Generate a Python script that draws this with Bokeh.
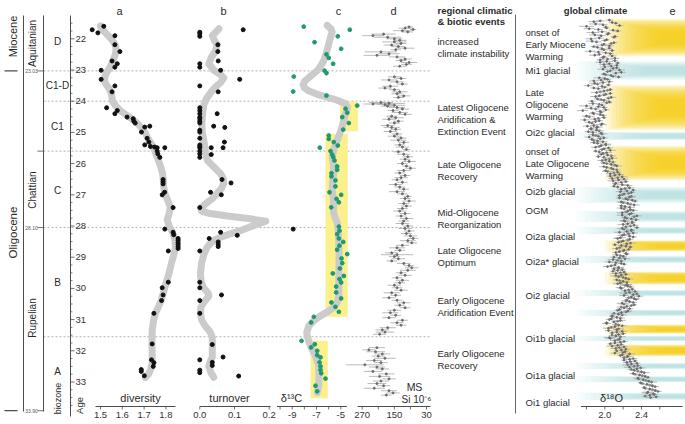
import numpy as np
from bokeh.plotting import figure
from bokeh.models import Range1d
from bokeh.core.properties import value
from bokeh.embed import file_html
from bokeh.resources import INLINE

FONT = "Liberation Sans"

# ---------------- data ----------------
age_ticks = [22, 23, 24, 25, 26, 27, 28, 29, 30, 31, 32, 33]
stage_names = ["Aquitanian", "Chattian", "Rupelian"]
stage_mid = [22.15, 26.85, 30.95]
stage_bounds = [23.03, 28.05, 33.92]
stage_bound_labels = ["23.03", "28.10", "33.90"]
biozone_names = ["D", "C1-D", "C1", "C", "B", "A"]
biozone_mid = [22.1, 23.5, 24.8, 26.85, 29.8, 32.65]
dashed_bounds = [23.03, 24.0, 25.6, 28.05, 31.55]

# panel a: diversity
a_age = [21.71, 21.81, 21.60, 21.90, 22.19, 22.41, 22.71, 22.80, 22.91, 23.01, 23.30, 23.51, 23.70,
         24.21, 24.30, 24.40, 24.51, 24.56, 24.64, 24.70, 24.80, 24.83, 24.99, 25.19, 25.31, 25.40,
         25.45, 25.47, 25.49, 25.49, 25.60, 25.69, 25.80, 26.51, 26.58, 26.65, 26.92, 27.00, 27.41,
         28.10, 28.20, 28.28, 28.40, 28.46, 28.53, 28.59, 28.66, 28.72, 28.80, 29.80, 29.98, 30.21,
         30.39, 30.80, 31.78, 32.29, 32.38, 32.50, 32.60, 32.66, 32.80]
a_div = [1.462, 1.488, 1.515, 1.566, 1.566, 1.589, 1.553, 1.577, 1.566, 1.503, 1.503, 1.566, 1.553,
         1.528, 1.577, 1.566, 1.622, 1.650, 1.653, 1.659, 1.726, 1.703, 1.688, 1.714, 1.722, 1.703,
         1.729, 1.748, 1.760, 1.795, 1.760, 1.763, 1.772, 1.787, 1.787, 1.787, 1.794, 1.783, 1.833,
         1.795, 1.833, 1.836, 1.856, 1.856, 1.856, 1.856, 1.856, 1.856, 1.811, 1.811, 1.783, 1.787,
         1.780, 1.745, 1.737, 1.734, 1.745, 1.742, 1.687, 1.687, 1.701]
a_curve_age = [21.59, 21.75, 21.9, 22.05, 22.2, 22.35, 22.5, 22.65, 22.8, 22.95, 23.1, 23.25, 23.4,
               23.55, 23.7, 23.85, 24.0, 24.15, 24.3, 24.45, 24.6, 24.75, 24.9, 25.05, 25.2, 25.35,
               25.5, 25.7, 25.9, 26.1, 26.3, 26.5, 26.75, 27.0, 27.2, 27.4, 27.6, 27.8, 28.0, 28.2,
               28.45, 28.7, 28.95, 29.2, 29.5, 29.85, 30.1, 30.4, 30.6, 30.8, 31.0, 31.35, 31.8, 32.1,
               32.4, 32.6, 32.75, 32.86]
a_curve = [1.50, 1.515, 1.535, 1.555, 1.568, 1.572, 1.568, 1.56, 1.552, 1.54, 1.527, 1.518, 1.52,
           1.535, 1.548, 1.552, 1.555, 1.57, 1.59, 1.62, 1.65, 1.675, 1.695, 1.708, 1.718, 1.732,
           1.744, 1.755, 1.766, 1.776, 1.784, 1.788, 1.79, 1.797, 1.81, 1.82, 1.815, 1.806, 1.815, 1.83,
           1.842, 1.844, 1.835, 1.825, 1.815, 1.80, 1.79, 1.778, 1.765, 1.752, 1.744, 1.737, 1.736,
           1.737, 1.737, 1.73, 1.72, 1.706]

# panel b: turnover
b_age = [21.79, 21.84, 21.92, 21.71, 22.19, 22.41, 22.71, 22.80, 22.91, 23.01, 23.30, 23.51, 23.70,
         24.21, 24.30, 24.40, 24.51, 24.56, 24.64, 24.70, 24.40, 24.80, 24.84, 24.93, 24.99, 25.19,
         25.31, 25.40, 25.45, 25.49, 25.60, 25.69, 25.80, 25.49, 25.49, 25.71, 26.51, 26.62, 26.92,
         27.00, 27.41, 28.20, 28.30, 28.40, 28.51, 28.59, 28.66, 28.80, 29.80, 29.98, 30.39, 30.80,
         30.21, 31.80, 32.20, 32.29, 32.37, 32.47, 32.62, 32.70, 32.81]
b_turn = [0.0, 0.0, 0.0, 0.125, 0.052, 0.052, 0.053, 0.0, 0.0, 0.060, 0.115, 0.0, 0.053,
          0.0, 0.0, 0.0, 0.0, 0.0, 0.0, 0.0, 0.050, 0.040, 0.072, 0.0, 0.0, 0.0,
          0.071, 0.0, 0.0, 0.0, 0.0, 0.0, 0.0, 0.033, 0.067, 0.033, 0.064, 0.090, 0.031,
          0.062, 0.0, 0.060, 0.108, 0.027, 0.053, 0.053, 0.053, 0.0, 0.0, 0.0, 0.0, 0.0,
          0.0625, 0.036, 0.067, 0.0, 0.036, 0.036, 0.0, 0.0, 0.112]
b_curve_age = [21.68, 21.8, 21.9, 22.05, 22.2, 22.4, 22.6, 22.8, 23.0, 23.15, 23.25, 23.4, 23.55,
               23.7, 23.9, 24.1, 24.4, 24.7, 25.0, 25.3, 25.58, 25.75, 25.9, 26.1, 26.3, 26.45,
               26.64, 26.8, 26.95, 27.12, 27.3, 27.44, 27.52, 27.6, 27.68, 27.76, 27.85, 27.93,
               28.05, 28.15, 28.26, 28.36, 28.5, 28.68, 28.9, 29.2, 29.53, 29.8, 30.0, 30.15, 30.25,
               30.4, 30.6, 30.8, 31.0, 31.2, 31.4, 31.57, 31.9, 32.2, 32.35, 32.5, 32.7, 32.85]
b_curve = [0.055, 0.045, 0.036, 0.042, 0.05, 0.045, 0.033, 0.026, 0.04, 0.06, 0.069, 0.06, 0.045,
           0.033, 0.02, 0.012, 0.008, 0.006, 0.007, 0.012, 0.016, 0.018, 0.022, 0.04, 0.058, 0.067,
           0.069, 0.062, 0.05, 0.037, 0.015, 0.003, 0.005, 0.03, 0.08, 0.14, 0.19, 0.17,
           0.14, 0.117, 0.085, 0.06, 0.035, 0.021, 0.012, 0.005, 0.002, 0.004, 0.012, 0.024, 0.026,
           0.015, 0.003, 0.002, 0.005, 0.015, 0.03, 0.036, 0.036, 0.036, 0.03, 0.026, 0.032, 0.04]

# panel c: d13C
c_age = [21.61, 21.71, 21.92, 22.11, 22.32, 22.50, 22.61, 22.80, 23.02, 23.10, 23.21, 23.69, 23.82,
         24.14, 24.24, 24.37, 24.51, 24.70, 24.91, 25.10, 25.21, 25.31, 25.42, 25.49, 25.60, 25.71,
         25.79, 25.90, 26.09, 26.20, 26.31, 26.41, 26.54, 26.73, 26.92, 27.00, 27.13, 27.24, 27.40,
         28.02, 28.15, 28.26, 28.40, 28.51, 28.63, 28.76, 28.90, 29.04, 29.19, 29.36, 29.52, 29.60,
         29.70, 29.81, 29.94, 30.13, 30.32, 30.45, 30.59, 30.75, 30.91, 31.09, 31.68, 31.79, 31.89,
         32.00, 32.14, 32.21, 32.37, 32.50, 32.61, 32.72, 32.89, 33.12, 33.30]
c_d13c = [-8.05, -4.26, -5.25, -7.16, -4.97, -6.18, -5.99, -5.63, -6.34, -6.18, -8.87, -8.92, -6.18,
          -3.65, -4.61, -4.47, -4.88, -4.34, -4.80, -5.99, -5.99, -5.58, -5.25, -6.73, -5.85, -5.71,
          -5.63, -5.52, -5.30, -5.30, -5.77, -5.77, -5.44, -5.44, -5.93, -4.97, -5.35, -5.16, -5.79,
          -5.16, -5.11, -5.30, -5.16, -4.80, -5.11, -5.30, -4.47, -4.94, -4.88, -5.08, -5.66, -4.75,
          -5.11, -4.97, -5.38, -5.38, -4.97, -5.77, -5.44, -5.16, -7.22, -7.44, -8.23, -7.14, -7.44,
          -6.94, -6.94, -6.67, -6.75, -6.67, -6.67, -6.61, -6.26, -7.08, -6.94]
c_out_age = [28.10]
c_out_d13c = [-8.92]
c_curve_age = [21.57, 21.68, 21.79, 21.95, 22.16, 22.4, 22.7, 22.9, 23.02, 23.2, 23.35, 23.46, 23.57,
               23.66, 23.77, 23.87, 23.97, 24.08, 24.2, 24.4, 24.6, 24.83, 25.05, 25.26, 25.5, 25.79,
               26.05, 26.33, 26.6, 26.86, 27.15, 27.4, 27.57, 27.75, 27.89, 28.2, 28.63, 29.0, 29.49,
               29.9, 30.24, 30.45, 30.61, 30.75, 30.88, 31.03, 31.2, 31.4, 31.52, 31.75, 31.95, 32.2,
               32.48, 32.8, 33.12, 33.34]
c_curve = [-6.12, -5.8, -5.71, -5.85, -5.99, -6.15, -6.40, -6.7, -6.94, -7.5, -7.95, -8.1, -8.0,
           -7.7, -7.0, -6.12, -5.3, -4.6, -4.45, -4.61, -4.75, -4.9, -5.1, -5.30, -5.55, -5.71,
           -5.6, -5.58, -5.68, -5.71, -5.6, -5.58, -5.6, -5.45, -5.30, -5.2, -5.16, -5.14, -5.16,
           -5.16, -5.16, -5.3, -5.58, -6.1, -6.67, -7.2, -7.63, -7.8, -7.77, -7.6, -7.36, -7.05,
           -6.81, -6.8, -6.81, -6.94]
c_box_top = [24.01, 25.05, 31.68]
c_box_bottom = [24.96, 30.91, 33.52]
c_box_left = [-5.08, -6.26, -7.49]
c_box_right = [-3.60, -4.43, -6.07]

# panel d: magnetic susceptibility
d_age = [21.62, 21.66, 21.70, 21.74, 21.78, 21.85, 21.90, 21.95, 22.00, 22.05, 22.10, 22.15, 22.20,
         22.25, 22.30, 22.35, 22.42, 22.48, 22.53, 22.58, 22.65, 22.70, 22.76, 22.82, 22.88, 23.22,
         23.27, 23.32, 23.38, 23.45, 23.52, 23.58, 23.63, 23.70, 23.76, 23.83, 23.88, 24.04, 24.07,
         24.09, 24.11, 24.13, 24.16, 24.20, 24.25, 24.30, 24.36, 24.42, 24.48, 24.53, 24.58, 24.64,
         24.70, 24.78, 24.84, 24.90, 24.97, 25.05, 25.12, 25.18, 25.25, 25.32, 25.40, 25.47, 25.55,
         25.62, 25.70, 25.78, 25.86, 25.93, 26.00, 26.08, 26.15, 26.22, 26.30, 26.38, 26.45, 26.52,
         26.60, 26.67, 26.75, 26.82, 26.90, 26.97, 27.05, 27.12, 27.20, 27.28, 27.36, 27.44, 27.52,
         27.60, 27.68, 27.76, 27.84, 27.92, 28.00, 28.08, 28.16, 28.24, 28.32, 28.40, 28.47, 28.54,
         28.62, 28.70, 28.78, 28.86, 28.92, 28.98, 29.05, 29.12, 29.20, 29.27, 29.34, 29.42, 29.50,
         29.58, 29.66, 29.74, 29.82, 29.90, 29.98, 30.06, 30.14, 30.22, 30.30, 30.38, 30.46, 30.54,
         30.62, 30.70, 30.78, 30.86, 30.94, 31.02, 31.10, 31.18, 31.26, 31.33, 31.40, 31.47, 31.90,
         31.97, 32.03, 32.10, 32.17, 32.24, 32.31, 32.38, 32.45, 32.52, 32.58, 32.66, 32.74, 32.82,
         32.90, 32.97, 33.05, 33.12, 33.20, 33.28, 33.35, 33.42]
d_ms = [95, 110, 80, 120, 100, 190, 230, 175, 150, 130, 150, 125, 160,
        135, 110, 145, 200, 170, 215, 140, 110, 125, 95, 105, 130, 150,
        125, 170, 140, 120, 165, 185, 150, 130, 140, 115, 135, 200, 170,
        230, 185, 150, 175, 140, 120, 155, 130, 110, 160, 145, 170, 135,
        150, 175, 160, 145, 165, 140, 150, 125, 135, 115, 130, 120, 105,
        135, 115, 100, 110, 95, 120, 105, 90, 115, 130, 110, 125, 140,
        120, 145, 130, 115, 140, 120, 100, 110, 95, 115, 105, 120, 130,
        110, 125, 105, 115, 120, 100, 110, 95, 105, 90, 80, 100, 85,
        120, 140, 130, 160, 140, 150, 135, 160, 115, 95, 85, 100, 125,
        110, 140, 120, 130, 150, 140, 125, 160, 145, 170, 140, 115, 130,
        110, 150, 165, 145, 170, 120, 140, 125, 175, 195, 185, 205, 215,
        245, 220, 195, 210, 185, 225, 200, 260, 215, 195, 230, 180, 205,
        170, 200, 215, 190, 225, 170, 155, 180]
d_err = [15, 25, 12, 35, 20, 45, 40, 50, 30, 25, 45, 20, 30,
         25, 35, 20, 60, 40, 50, 30, 25, 20, 30, 20, 25, 25,
         20, 30, 25, 20, 30, 25, 20, 30, 20, 25, 20, 45, 60,
         35, 30, 40, 25, 30, 25, 20, 30, 25, 20, 30, 25, 20,
         20, 25, 30, 20, 25, 20, 25, 20, 30, 20, 20, 25, 15,
         20, 25, 20, 20, 25, 20, 15, 20, 25, 20, 20, 25, 20,
         20, 25, 20, 20, 30, 20, 15, 20, 25, 20, 20, 20, 25,
         20, 20, 25, 20, 25, 20, 25, 20, 20, 25, 20, 30, 20,
         25, 30, 20, 25, 60, 20, 25, 20, 25, 20, 25, 30, 20,
         25, 20, 25, 20, 25, 20, 25, 30, 20, 25, 20, 25, 20,
         20, 25, 30, 20, 25, 20, 25, 20, 30, 25, 35, 25, 30,
         25, 35, 30, 25, 40, 30, 25, 70, 30, 25, 35, 30, 40,
         25, 30, 35, 25, 40, 30, 25, 20]

# panel e: d18O (global), two interleaved sample sets
e_age = [21.40, 21.45, 21.50, 21.55, 21.60, 21.65, 21.70, 21.75, 21.80, 21.85,
         21.90, 21.95, 22.00, 22.05, 22.10, 22.15, 22.20, 22.25, 22.30, 22.35,
         22.40, 22.45, 22.50, 22.55, 22.60, 22.65, 22.70, 22.75, 22.80, 22.85,
         22.90, 22.95, 23.00, 23.05, 23.10, 23.15, 23.20, 23.25, 23.30, 23.35,
         23.40, 23.45, 23.50, 23.55, 23.60, 23.65, 23.70, 23.75, 23.80, 23.85,
         23.90, 23.95, 24.00, 24.05, 24.10, 24.15, 24.20, 24.25, 24.30, 24.35,
         24.40, 24.45, 24.50, 24.55, 24.60, 24.65, 24.70, 24.75, 24.80, 24.85,
         24.90, 24.95, 25.00, 25.05, 25.10, 25.15, 25.20, 25.25, 25.30, 25.35,
         25.40, 25.45, 25.50, 25.55, 25.60, 25.65, 25.70, 25.75, 25.80, 25.85,
         25.90, 25.95, 26.00, 26.05, 26.10, 26.15, 26.20, 26.25, 26.30, 26.35,
         26.40, 26.45, 26.50, 26.55, 26.60, 26.65, 26.70, 26.75, 26.80, 26.85,
         26.90, 26.95, 27.00, 27.05, 27.10, 27.15, 27.20, 27.25, 27.30, 27.35,
         27.40, 27.45, 27.50, 27.55, 27.60, 27.65, 27.70, 27.75, 27.80, 27.85,
         27.90, 27.95, 28.00, 28.05, 28.10, 28.15, 28.20, 28.25, 28.30, 28.35,
         28.40, 28.45, 28.50, 28.55, 28.60, 28.65, 28.70, 28.75, 28.80, 28.85,
         28.90, 28.95, 29.00, 29.05, 29.10, 29.15, 29.20, 29.25, 29.30, 29.35,
         29.40, 29.45, 29.50, 29.55, 29.60, 29.65, 29.70, 29.75, 29.80, 29.85,
         29.90, 29.95, 30.00, 30.05, 30.10, 30.15, 30.20, 30.25, 30.30, 30.35,
         30.40, 30.45, 30.50, 30.55, 30.60, 30.65, 30.70, 30.75, 30.80, 30.85,
         30.90, 30.95, 31.00, 31.05, 31.10, 31.15, 31.20, 31.25, 31.30, 31.35,
         31.40, 31.45, 31.50, 31.55, 31.60, 31.65, 31.70, 31.75, 31.80, 31.85,
         31.90, 31.95, 32.00, 32.05, 32.10, 32.15, 32.20, 32.25, 32.30, 32.35,
         32.40, 32.45, 32.50, 32.55, 32.60, 32.65, 32.70, 32.75, 32.80, 32.85,
         32.90, 32.95, 33.00, 33.05, 33.10, 33.15, 33.20, 33.25, 33.30, 33.35,
         33.40, 33.45, 33.50]
e_d18o = [2.05, 1.88, 2.12, 1.98, 1.80, 2.02, 1.93, 2.14, 1.87, 2.03,
          1.96, 2.10, 1.85, 2.00, 1.91, 2.07, 1.97, 1.88, 2.05, 1.99,
          1.84, 2.01, 1.94, 2.08, 1.98, 2.03, 2.11, 1.95, 2.05, 2.13,
          2.00, 2.09, 2.16, 2.03, 2.12, 2.01, 2.09, 1.94, 2.03, 1.88,
          1.98, 1.92, 1.82, 2.00, 1.93, 2.03, 1.95, 2.06, 1.99, 1.90,
          2.04, 1.96, 1.86, 2.02, 1.94, 1.80, 1.99, 1.90, 1.76, 1.96,
          1.88, 1.98, 1.83, 1.93, 1.78, 1.90, 1.86, 1.96, 1.81, 1.91,
          1.85, 1.94, 1.87, 1.97, 1.90, 1.83, 1.95, 1.88, 1.98, 1.92,
          2.01, 1.94, 2.04, 1.97, 1.90, 2.02, 1.96, 2.07, 1.99, 2.05,
          1.97, 2.09, 2.02, 2.11, 1.99, 2.07, 2.13, 2.03, 2.10, 2.16,
          2.06, 2.14, 2.21, 2.09, 2.18, 2.11, 2.25, 2.14, 2.22, 2.31,
          2.17, 2.26, 2.19, 2.29, 2.16, 2.25, 2.33, 2.20, 2.28, 2.18,
          2.27, 2.21, 2.31, 2.23, 2.29, 2.19, 2.32, 2.24, 2.34, 2.22,
          2.30, 2.20, 2.28, 2.35, 2.21, 2.29, 2.16, 2.26, 2.19, 2.31,
          2.14, 2.25, 2.18, 2.28, 2.11, 2.23, 2.16, 2.26, 2.20, 2.12,
          2.24, 2.17, 2.10, 2.22, 2.14, 2.05, 2.18, 2.11, 2.03, 2.15,
          2.19, 2.09, 2.17, 2.23, 2.12, 2.20, 2.26, 2.16, 2.24, 2.14,
          2.22, 2.28, 2.18, 2.26, 2.33, 2.23, 2.31, 2.37, 2.26, 2.34,
          2.23, 2.31, 2.21, 2.29, 2.18, 2.27, 2.14, 2.23, 2.10, 2.19,
          2.08, 2.17, 2.05, 2.14, 2.02, 2.12, 2.19, 2.07, 2.15, 2.04,
          2.13, 2.20, 2.08, 2.17, 2.06, 2.14, 2.21, 2.11, 2.18, 2.08,
          2.16, 2.23, 2.13, 2.20, 2.27, 2.17, 2.24, 2.31, 2.21, 2.28,
          2.35, 2.25, 2.32, 2.39, 2.29, 2.36, 2.43, 2.33, 2.41, 2.47,
          2.37, 2.45, 2.51, 2.41, 2.49, 2.55, 2.44, 2.52, 2.58, 2.46,
          2.54, 2.44, 2.50]
e_err = [0.04, 0.06, 0.03, 0.05, 0.08, 0.03, 0.05, 0.04, 0.07, 0.03,
         0.05, 0.03, 0.06, 0.04, 0.05, 0.03, 0.07, 0.04, 0.03, 0.05,
         0.06, 0.04, 0.03, 0.05, 0.04, 0.06, 0.03, 0.05, 0.04, 0.03,
         0.05, 0.04, 0.06, 0.03, 0.04, 0.05, 0.03, 0.06, 0.04, 0.05,
         0.04, 0.07, 0.05, 0.03, 0.06, 0.04, 0.05, 0.03, 0.04, 0.06,
         0.03, 0.05, 0.04, 0.06, 0.03, 0.08, 0.04, 0.05, 0.06, 0.03,
         0.05, 0.04, 0.06, 0.03, 0.05, 0.04, 0.03, 0.06, 0.05, 0.04,
         0.03, 0.05, 0.04, 0.06, 0.03, 0.05, 0.04, 0.03, 0.05, 0.04,
         0.06, 0.03, 0.05, 0.04, 0.03, 0.06, 0.04, 0.05, 0.03, 0.04,
         0.05, 0.03, 0.06, 0.04, 0.05, 0.03, 0.04, 0.06, 0.03, 0.05,
         0.04, 0.03, 0.05, 0.06, 0.04, 0.03, 0.05, 0.04, 0.06, 0.03,
         0.05, 0.04, 0.03, 0.05, 0.04, 0.06, 0.03, 0.05, 0.04, 0.03,
         0.06, 0.04, 0.05, 0.03, 0.04, 0.06, 0.03, 0.05, 0.04, 0.05,
         0.03, 0.06, 0.04, 0.03, 0.05, 0.04, 0.06, 0.03, 0.05, 0.04,
         0.05, 0.03, 0.04, 0.06, 0.03, 0.05, 0.04, 0.03, 0.06, 0.04,
         0.03, 0.05, 0.04, 0.06, 0.03, 0.05, 0.04, 0.03, 0.05, 0.06,
         0.04, 0.03, 0.05, 0.04, 0.06, 0.03, 0.05, 0.04, 0.03, 0.05,
         0.06, 0.04, 0.03, 0.05, 0.04, 0.07, 0.03, 0.05, 0.04, 0.03,
         0.05, 0.04, 0.06, 0.03, 0.05, 0.04, 0.03, 0.06, 0.04, 0.05,
         0.03, 0.05, 0.04, 0.06, 0.03, 0.04, 0.05, 0.03, 0.06, 0.04,
         0.05, 0.03, 0.04, 0.06, 0.05, 0.03, 0.04, 0.05, 0.03, 0.06,
         0.04, 0.05, 0.03, 0.04, 0.06, 0.03, 0.05, 0.04, 0.03, 0.05,
         0.04, 0.06, 0.03, 0.05, 0.04, 0.03, 0.06, 0.04, 0.05, 0.03,
         0.05, 0.04, 0.06, 0.03, 0.05, 0.04, 0.03, 0.05, 0.04, 0.06,
         0.04, 0.03, 0.05]
e2_age = [21.425, 21.475, 21.525, 21.575, 21.625, 21.675, 21.725, 21.775, 21.825, 21.875,
          21.925, 21.975, 22.025, 22.075, 22.125, 22.175, 22.225, 22.275, 22.325, 22.375,
          22.425, 22.475, 22.525, 22.575, 22.625, 22.675, 22.725, 22.775, 22.825, 22.875,
          22.925, 22.975, 23.025, 23.075, 23.125, 23.175, 23.225, 23.275, 23.325, 23.375,
          23.425, 23.475, 23.525, 23.575, 23.625, 23.675, 23.725, 23.775, 23.825, 23.875,
          23.925, 23.975, 24.025, 24.075, 24.125, 24.175, 24.225, 24.275, 24.325, 24.375,
          24.425, 24.475, 24.525, 24.575, 24.625, 24.675, 24.725, 24.775, 24.825, 24.875,
          24.925, 24.975, 25.025, 25.075, 25.125, 25.175, 25.225, 25.275, 25.325, 25.375,
          25.425, 25.475, 25.525, 25.575, 25.625, 25.675, 25.725, 25.775, 25.825, 25.875,
          25.925, 25.975, 26.025, 26.075, 26.125, 26.175, 26.225, 26.275, 26.325, 26.375,
          26.425, 26.475, 26.525, 26.575, 26.625, 26.675, 26.725, 26.775, 26.825, 26.875,
          26.925, 26.975, 27.025, 27.075, 27.125, 27.175, 27.225, 27.275, 27.325, 27.375,
          27.425, 27.475, 27.525, 27.575, 27.625, 27.675, 27.725, 27.775, 27.825, 27.875,
          27.925, 27.975, 28.025, 28.075, 28.125, 28.175, 28.225, 28.275, 28.325, 28.375,
          28.425, 28.475, 28.525, 28.575, 28.625, 28.675, 28.725, 28.775, 28.825, 28.875,
          28.925, 28.975, 29.025, 29.075, 29.125, 29.175, 29.225, 29.275, 29.325, 29.375,
          29.425, 29.475, 29.525, 29.575, 29.625, 29.675, 29.725, 29.775, 29.825, 29.875,
          29.925, 29.975, 30.025, 30.075, 30.125, 30.175, 30.225, 30.275, 30.325, 30.375,
          30.425, 30.475, 30.525, 30.575, 30.625, 30.675, 30.725, 30.775, 30.825, 30.875,
          30.925, 30.975, 31.025, 31.075, 31.125, 31.175, 31.225, 31.275, 31.325, 31.375,
          31.425, 31.475, 31.525, 31.575, 31.625, 31.675, 31.725, 31.775, 31.825, 31.875,
          31.925, 31.975, 32.025, 32.075, 32.125, 32.175, 32.225, 32.275, 32.325, 32.375,
          32.425, 32.475, 32.525, 32.575, 32.625, 32.675, 32.725, 32.775, 32.825, 32.875,
          32.925, 32.975, 33.025, 33.075, 33.125, 33.175, 33.225, 33.275, 33.325, 33.375,
          33.425, 33.475]
e2_d18o = [1.95, 2.08, 1.90, 2.16, 2.01, 1.83, 2.09, 1.97, 2.04, 1.89,
           2.11, 1.94, 2.02, 1.86, 2.10, 1.99, 2.05, 1.92, 1.97, 2.08,
           1.93, 2.06, 1.89, 1.99, 2.11, 1.95, 2.02, 2.14, 1.99, 2.07,
           2.13, 1.98, 2.06, 2.18, 1.99, 2.07, 2.15, 2.00, 1.96, 2.05,
           1.89, 2.04, 1.97, 1.88, 2.06, 1.99, 1.91, 2.01, 1.94, 2.07,
           1.92, 1.99, 2.05, 1.87, 1.97, 1.93, 1.85, 2.01, 1.95, 1.87,
           1.95, 1.80, 1.99, 1.89, 1.94, 1.83, 1.97, 1.88, 1.92, 1.85,
           1.91, 1.82, 1.96, 1.87, 1.93, 1.99, 1.86, 1.92, 1.88, 2.01,
           1.96, 1.90, 1.99, 2.06, 1.94, 1.98, 2.03, 1.93, 2.08, 2.01,
           2.05, 1.99, 2.07, 2.13, 2.02, 2.09, 2.01, 2.14, 2.06, 2.11,
           2.19, 2.08, 2.15, 2.23, 2.12, 2.19, 2.10, 2.27, 2.18, 2.24,
           2.29, 2.21, 2.16, 2.27, 2.23, 2.30, 2.18, 2.25, 2.32, 2.22,
           2.18, 2.28, 2.25, 2.19, 2.27, 2.35, 2.22, 2.29, 2.21, 2.30,
           2.25, 2.32, 2.23, 2.19, 2.29, 2.24, 2.31, 2.21, 2.27, 2.17,
           2.27, 2.20, 2.15, 2.24, 2.18, 2.28, 2.13, 2.21, 2.16, 2.23,
           2.13, 2.20, 2.16, 2.09, 2.18, 2.12, 2.21, 2.07, 2.15, 2.10,
           2.14, 2.21, 2.12, 2.18, 2.15, 2.23, 2.13, 2.20, 2.17, 2.24,
           2.25, 2.17, 2.30, 2.22, 2.27, 2.35, 2.21, 2.29, 2.32, 2.24,
           2.27, 2.19, 2.32, 2.24, 2.21, 2.16, 2.25, 2.18, 2.15, 2.08,
           2.13, 2.07, 2.17, 2.10, 2.02, 2.15, 2.11, 2.04, 2.13, 2.19,
           2.08, 2.15, 2.12, 2.05, 2.16, 2.11, 2.17, 2.06, 2.14, 2.21,
           2.12, 2.18, 2.22, 2.11, 2.19, 2.25, 2.21, 2.27, 2.33, 2.24,
           2.29, 2.36, 2.27, 2.35, 2.32, 2.40, 2.31, 2.38, 2.44, 2.36,
           2.42, 2.48, 2.39, 2.46, 2.52, 2.43, 2.49, 2.55, 2.47, 2.53,
           2.49, 2.56]
e2_err = [0.05, 0.03, 0.07, 0.04, 0.03, 0.06, 0.04, 0.05, 0.03, 0.06,
          0.04, 0.05, 0.03, 0.07, 0.04, 0.03, 0.05, 0.06, 0.04, 0.03,
          0.05, 0.04, 0.06, 0.03, 0.05, 0.04, 0.07, 0.03, 0.05, 0.04,
          0.03, 0.06, 0.04, 0.05, 0.03, 0.06, 0.04, 0.03, 0.05, 0.04,
          0.06, 0.03, 0.05, 0.04, 0.03, 0.05, 0.06, 0.04, 0.03, 0.05,
          0.04, 0.06, 0.03, 0.05, 0.04, 0.03, 0.07, 0.04, 0.05, 0.03,
          0.04, 0.05, 0.03, 0.06, 0.04, 0.05, 0.03, 0.04, 0.06, 0.03,
          0.05, 0.04, 0.03, 0.05, 0.06, 0.04, 0.03, 0.05, 0.04, 0.06,
          0.03, 0.05, 0.04, 0.06, 0.03, 0.04, 0.05, 0.03, 0.06, 0.04,
          0.05, 0.04, 0.03, 0.06, 0.04, 0.05, 0.03, 0.04, 0.05, 0.03,
          0.06, 0.04, 0.05, 0.03, 0.04, 0.06, 0.03, 0.05, 0.04, 0.03,
          0.04, 0.05, 0.03, 0.06, 0.04, 0.03, 0.05, 0.04, 0.06, 0.03,
          0.05, 0.03, 0.04, 0.06, 0.03, 0.05, 0.04, 0.03, 0.05, 0.04,
          0.03, 0.05, 0.04, 0.06, 0.04, 0.03, 0.05, 0.04, 0.03, 0.06,
          0.04, 0.06, 0.03, 0.05, 0.04, 0.03, 0.05, 0.06, 0.04, 0.03,
          0.05, 0.04, 0.03, 0.06, 0.04, 0.05, 0.03, 0.04, 0.06, 0.03,
          0.05, 0.03, 0.06, 0.04, 0.05, 0.03, 0.04, 0.05, 0.03, 0.06,
          0.04, 0.05, 0.03, 0.04, 0.06, 0.03, 0.05, 0.04, 0.06, 0.03,
          0.04, 0.06, 0.03, 0.05, 0.04, 0.03, 0.05, 0.04, 0.06, 0.03,
          0.05, 0.04, 0.06, 0.03, 0.05, 0.04, 0.03, 0.06, 0.04, 0.05,
          0.03, 0.04, 0.05, 0.06, 0.03, 0.05, 0.04, 0.03, 0.05, 0.04,
          0.06, 0.03, 0.04, 0.05, 0.03, 0.06, 0.04, 0.05, 0.03, 0.04,
          0.05, 0.03, 0.06, 0.04, 0.05, 0.03, 0.04, 0.06, 0.03, 0.05,
          0.04, 0.05, 0.03, 0.06, 0.04, 0.03, 0.05, 0.04, 0.06, 0.03,
          0.05, 0.04]
warm_top = [21.35, 23.47, 25.42, 28.46, 29.46, 31.16, 31.80]
warm_bottom = [22.57, 24.94, 26.54, 28.82, 29.88, 31.45, 32.18]
cold_top = [22.70, 24.97, 26.73, 27.50, 28.02, 28.95, 30.04, 30.67, 31.51, 32.38, 32.80, 33.33]
cold_bottom = [23.34, 25.26, 27.28, 27.89, 28.27, 29.20, 30.26, 30.90, 31.70, 32.60, 33.02, 33.59]

events = [["increased", "climate instability"],
          ["Latest Oligocene", "Aridification &", "Extinction Event"],
          ["Late Oligocene", "Recovery"],
          ["Mid-Oligocene", "Reorganization"],
          ["Late Oligocene", "Optimum"],
          ["Early Oligocene", "Aridification Event"],
          ["Early Oligocene", "Recovery"]]
events_ypx = [47, 119, 170, 218, 256, 306, 359]
global_events = [["onset of", "Early Miocene", "Warming"], ["Mi1 glacial"],
                 ["Late", "Oligocene", "Warming"], ["Oi2c glacial"],
                 ["onset of", "Late Oligocene", "Warming"], ["Oi2b glacial"], ["OGM"],
                 ["Oi2a glacial"], ["Oi2a* glacial"], ["Oi2 glacial"], ["Oi1b glacial"],
                 ["Oi1a glacial"], ["Oi1 glacial"]]
global_ypx = [44, 70, 104, 132, 163, 191, 210, 236, 261, 295, 338, 375, 402]

# ---------------- figure ----------------
W, H = 685, 424
SCALE = 31.2          # px per Ma
Y0PX = 38.3           # px of 22 Ma


def yp(px):
    return 22 + (px - Y0PX) / SCALE


p = figure(width=W, height=H, x_range=Range1d(0, W), y_range=Range1d(yp(H), yp(0)),
           output_backend="svg", toolbar_location=None, min_border=0,
           x_axis_location=None, y_axis_location=None, outline_line_color=None)
p.grid.visible = False
p.background_fill_color = "white"
p.border_fill_color = "white"


def xrange_for(px0, v0, px_per_unit):
    return Range1d(v0 + (0 - px0) / px_per_unit, v0 + (W - px0) / px_per_unit)


p.extra_x_ranges = {
    "a": xrange_for(100.0, 1.5, 218.0),
    "b": xrange_for(199.3, 0.0, 347.0),
    "c": xrange_for(291.7, -9.0, 12.15),
    "d": xrange_for(361.7, 270.0, -0.268),
    "e": xrange_for(604.3, 2.0, 91.7),
}

TXT = "#2b2b2b"


def label(x, ypx, txt, size="9px", align="left", angle=0.0, style="normal", color=TXT,
          rng="default", baseline="middle"):
    p.text(x=[x], y=[yp(ypx)], text=[txt], text_font=value(FONT), text_font_size=size,
           text_align=align, text_baseline=baseline, angle=angle, text_font_style=style,
           text_color=color, x_range_name=rng)


# ---- bands in panel e (soft gradients via stacked layers) ----
N = 16
for tops, bots, col, l0, l1, a in [(cold_top, cold_bottom, "#8cc6c7", 1.68, 2.50, 0.045),
                                    (warm_top, warm_bottom, "#f7d014", 2.00, 2.64, 0.12)]:
    for k in range(N):
        f = k / N
        t = [tt + (bb - tt) * 0.36 * f for tt, bb in zip(tops, bots)]
        b = [bb - (bb - tt) * 0.36 * f for tt, bb in zip(tops, bots)]
        p.quad(left=l0 + (l1 - l0) * f, right=3.2, top=t, bottom=b, fill_color=col,
               fill_alpha=a, line_color=None, x_range_name="e")

# ---- dashed boundary lines ----
p.segment(x0=43, x1=430, y0=dashed_bounds, y1=dashed_bounds, line_color="#9a9a9a",
          line_width=0.8, line_dash="2 2")

# ---- left stratigraphic columns ----
LC = "#4d4d4d"
p.segment(x0=[23, 43], x1=[23, 43], y0=[yp(15), yp(15)], y1=[yp(411), yp(411)],
          line_color=LC, line_width=1)
p.segment(x0=4, x1=17, y0=[stage_bounds[0], stage_bounds[2]], y1=[stage_bounds[0], stage_bounds[2]],
          line_color=LC, line_width=1.2)
p.segment(x0=37, x1=43, y0=stage_bounds + [25.6], y1=stage_bounds + [25.6], line_color=LC,
          line_width=0.8)
p.text(x=31, y=stage_bounds, text=stage_bound_labels, text_font=value(FONT), text_font_size="5px",
       text_align="center", text_baseline="middle", text_color="#555")
label(12, 36, "Miocene", size="11px", align="center", angle=np.pi / 2)
label(12, 232, "Oligocene", size="11.5px", align="center", angle=np.pi / 2)
p.text(x=32, y=stage_mid, text=stage_names, text_font=value(FONT),
       text_font_size="10px", text_align="center", text_baseline="middle", angle=np.pi / 2,
       text_color=TXT)
p.text(x=57, y=biozone_mid, text=biozone_names, text_font=value(FONT), text_font_size="10px",
       text_align="center", text_baseline="middle", text_color=TXT)
label(57, 398, "biozone", size="9px", align="center", angle=np.pi / 2)

# age axis
p.segment(x0=70, x1=70, y0=yp(15), y1=yp(416), line_color=LC, line_width=1)
minor = [t + q for t in range(21, 34) for q in (0.25, 0.5, 0.75)]
minor = [m for m in minor if yp(15) <= m <= yp(416)]
p.segment(x0=70, x1=72, y0=minor, y1=minor, line_color=LC, line_width=0.7)
p.segment(x0=70, x1=74, y0=age_ticks, y1=age_ticks, line_color=LC, line_width=0.8)
p.text(x=75, y=age_ticks, text=[str(t) for t in age_ticks], text_font=value(FONT),
       text_font_size="9.5px", text_align="left", text_baseline="middle", text_color="#333")
label(79, 405, "Age", size="9.5px", align="center", angle=np.pi / 2)

# ---- panel a ----
GREY = "#cbcbcb"
p.line(x=a_curve, y=a_curve_age, line_color=GREY, line_width=7, line_cap="round",
       line_join="round", x_range_name="a")
p.scatter(x=a_div, y=a_age, size=4, color="#111111", x_range_name="a")

# ---- panel b ----
p.line(x=b_curve, y=b_curve_age, line_color=GREY, line_width=7, line_cap="round",
       line_join="round", x_range_name="b")
p.scatter(x=b_turn, y=b_age, size=4, color="#111111", x_range_name="b")

# ---- panel c ----
p.quad(left=c_box_left, right=c_box_right, top=c_box_top, bottom=c_box_bottom,
       fill_color="#fcf08c", line_color=None, x_range_name="c")
p.line(x=c_curve, y=c_curve_age, line_color=GREY, line_width=7, line_cap="round",
       line_join="round", x_range_name="c")
p.scatter(x=c_d13c, y=c_age, size=3.8, color="#1f9a70", x_range_name="c")
p.scatter(x=c_out_d13c, y=c_out_age, size=4, color="#111111", x_range_name="c")

# ---- panel d ----
n = min(len(d_age), len(d_ms), len(d_err))
p.segment(x0=[d_ms[i] - d_err[i] for i in range(n)], x1=[d_ms[i] + d_err[i] for i in range(n)],
          y0=d_age[:n], y1=d_age[:n], line_color="#a8a8a8", line_width=0.8, x_range_name="d")
p.scatter(x=d_ms[:n], y=d_age[:n], size=2.0, color="#6a6a6a", x_range_name="d")

# ---- panel e ----
for ages, vals, errs in [(e_age, e_d18o, e_err), (e2_age, e2_d18o, e2_err)]:
    n = min(len(ages), len(vals), len(errs))
    p.segment(x0=[vals[i] - errs[i] for i in range(n)], x1=[vals[i] + errs[i] for i in range(n)],
              y0=ages[:n], y1=ages[:n], line_color="#a8a8a8", line_width=0.8, x_range_name="e")
    p.scatter(x=vals[:n], y=ages[:n], size=1.8, color="#6a6a6a", x_range_name="e")

# ---- bottom axes ----
AY, TY, LY = yp(406), yp(409), yp(414)


def haxis(rng, lo, hi, ticks, labs, labvals):
    p.segment(x0=[lo], x1=[hi], y0=[AY], y1=[AY], line_color=LC, line_width=1, x_range_name=rng)
    p.segment(x0=ticks, x1=ticks, y0=AY, y1=TY, line_color=LC, line_width=0.8, x_range_name=rng)
    p.text(x=labvals, y=LY, text=labs, text_font=value(FONT), text_font_size="9.5px",
           text_align="center", text_baseline="middle", text_color="#333", x_range_name=rng)


haxis("a", 1.477, 1.844, [1.5, 1.6, 1.7, 1.8], ["1.5", "1.6", "1.7", "1.8"], [1.5, 1.6, 1.7, 1.8])
haxis("b", 0.0, 0.204, [0.0, 0.1, 0.2], ["0.0", "0.1", "0.2"], [0.0, 0.1, 0.2])
haxis("c", -10.25, -4.5, [-10, -9, -8, -7, -6, -5], ["-9", "-7", "-5"], [-9, -7, -5])
haxis("d", 287, 15, [270, 210, 150, 90, 30], ["270", "150", "30"], [270, 150, 30])
haxis("e", 1.74, 2.85, [1.8, 2.0, 2.2, 2.4, 2.6], ["2.0", "2.4"], [2.0, 2.4])

# ---- titles / labels ----
label(140, 397.5, "diversity", size="11px", align="center")
label(229, 397.5, "turnover", size="11px", align="center")
label(291, 397, "δ¹³C", size="11px", align="center")
label(414, 386.5, "MS", size="10.5px", align="center")
label(416, 398.5, "Si 10⁻⁶", size="10px", align="center")
label(611, 397, "δ¹⁸O", size="11px", align="center")
for x, t in [(119, "a"), (223, "b"), (338, "c"), (393, "d"), (672, "e")]:
    label(x, 10, t, size="11px", align="center")

# events column
label(437, 10, "regional climatic", size="9.5px", style="bold")
label(437, 21, "& biotic events", size="9.5px", style="bold")
LS = 12
for lines, yc in zip(events, events_ypx):
    y0 = yc - (len(lines) - 1) * LS / 2
    for i, t in enumerate(lines):
        label(437, y0 + i * LS, t, size="9.5px")

p.segment(x0=515, x1=515, y0=yp(14), y1=yp(413), line_color="#666", line_width=1)
label(595, 10, "global climate", size="9.5px", style="bold", align="center")
for lines, yc in zip(global_events, global_ypx):
    y0 = yc - (len(lines) - 1) * LS / 2
    for i, t in enumerate(lines):
        label(525, y0 + i * LS, t, size="9.5px")

open("out.html", "w").write(file_html(p, INLINE))
